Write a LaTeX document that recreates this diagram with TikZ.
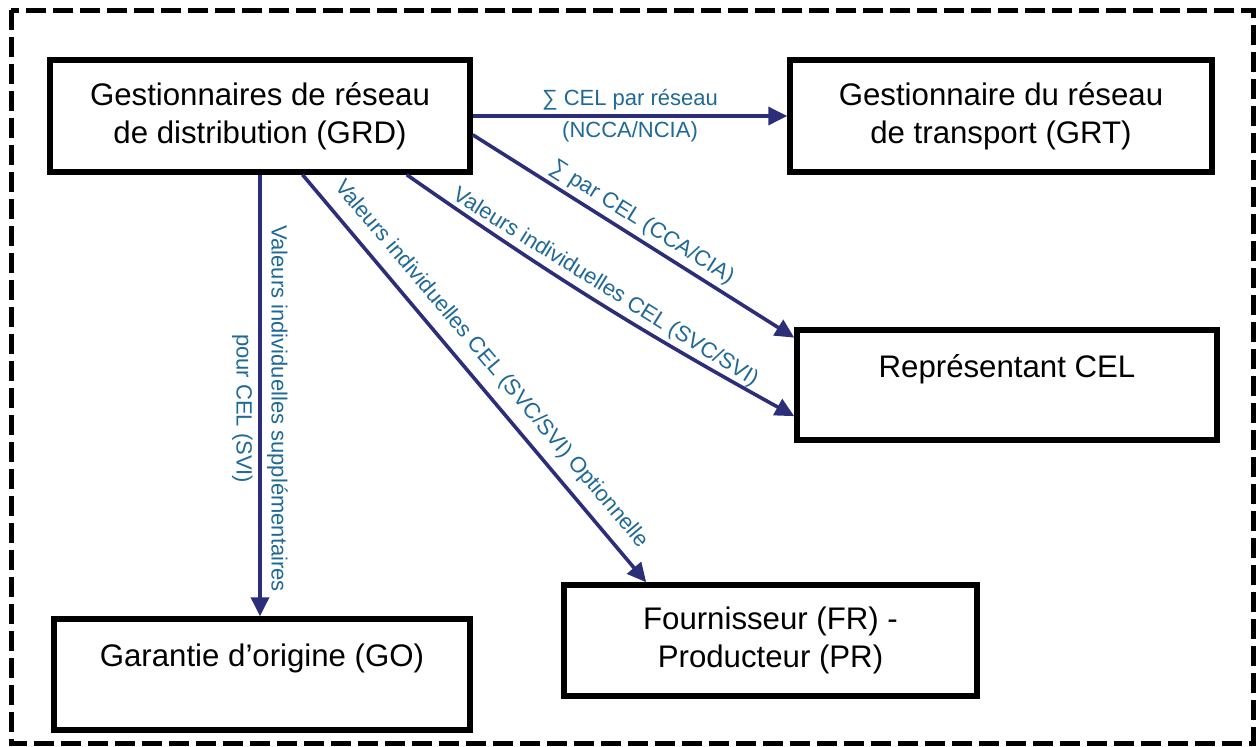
\documentclass[tikz,border=0pt]{standalone}
\usepackage{fontspec}
\setmainfont{Liberation Sans}
\usetikzlibrary{arrows.meta,calc}
\definecolor{flow}{RGB}{44,46,122}
\definecolor{flowtext}{RGB}{31,105,150}
\begin{document}
\begin{tikzpicture}[x=0.5pt,y=-0.5pt,
  entity/.style={draw=black, line width=2.75pt, align=center, inner sep=0pt,
    font=\fontsize{15.6}{19}\selectfont},
  flowline/.style={draw=flow, line width=1.8pt,
    -{Triangle[length=9.5pt,width=9pt]}},
  flowlabel/.style={font=\fontsize{11}{13.5}\selectfont, text=flowtext, inner sep=2pt},
  frame/.style={draw=black, line width=2.5pt, dash pattern=on 10pt off 3.5pt}
]
\useasboundingbox (0,0) rectangle (1259,746);

% dashed outer frame
\draw[frame] (11,10) rectangle (1253,743);

% actors
\node[entity, minimum width=210pt, minimum height=56pt] (grd) at (260,116)
  {Gestionnaires de réseau\\de distribution (GRD)};
\node[entity, minimum width=211pt, minimum height=56pt] (grt) at (1001,116)
  {Gestionnaire du réseau\\de transport (GRT)};
\node[entity, minimum width=210pt, minimum height=55pt] (rep) at (1007,385)
  {Représentant CEL\\\mbox{}};
\node[entity, minimum width=208pt, minimum height=55.5pt] (go) at (262,674.5)
  {Garantie d’origine (GO)\\\mbox{}};
\node[entity, minimum width=206.5pt, minimum height=55.5pt] (fr) at (770.5,640.5)
  {Fournisseur (FR) -\\Producteur (PR)};

% data flows
\draw[flowline] (grd.east) -- (grt.west)
  node[midway, above, flowlabel] {∑ CEL par réseau}
  node[midway, below, flowlabel] {(NCCA/NCIA)};

\draw[flowline] ($(grd.north east)!0.66!(grd.south east)$)
  -- node[midway, above, sloped, flowlabel] {∑ par CEL (CCA/CIA)}
  ($(rep.north west)!0.09!(rep.south west)$);

\draw[flowline] ($(grd.south west)!0.845!(grd.south east)$)
  to[bend right=3] node[midway, above, sloped, flowlabel] {Valeurs individuelles CEL (SVC/SVI)}
  ($(rep.north west)!0.77!(rep.south west)$);

\draw[flowline] ($(grd.south west)!0.6!(grd.south east)$)
  -- node[pos=0.5, above=3pt, sloped, flowlabel] {Valeurs individuelles CEL (SVC/SVI) Optionnelle}
  ($(fr.north west)!0.203!(fr.north east)$);

\draw[flowline] (grd.south) -- (grd.south |- go.north)
  node[pos=0.53, sloped, flowlabel, align=center]
  {Valeurs individuelles supplémentaires\\[4pt]pour CEL (SVI)};
\end{tikzpicture}
\end{document}
